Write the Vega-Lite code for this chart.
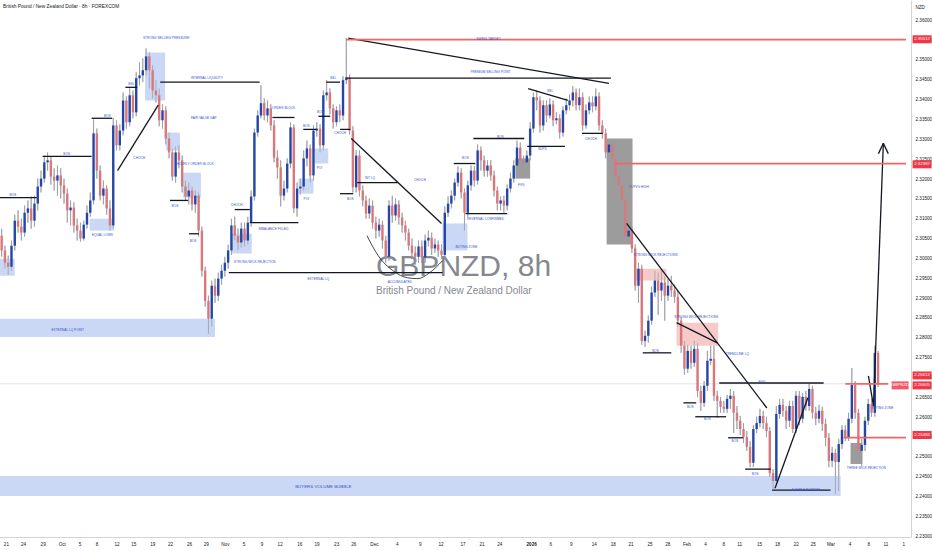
{
"$schema": "https://vega.github.io/schema/vega-lite/v6.json",
"width": 932, "height": 550, "padding": {"left": -5, "top": 0, "right": 0, "bottom": 4}, "autosize": {"type": "fit", "contains": "padding"},
"background": "white",
"config": {"font": "Liberation Sans, Arial, sans-serif", "view": {"stroke": null},
 "axis": {"labelOverlap": false, "labelFlush": false, "labelBound": false, "ticks": false, "grid": false, "domainColor": "#d1d4dc", "labelColor": "#131722", "labelFontSize": 4.6, "labelPadding": 4, "tickCount": 200}},
"datasets": {
"candles": [
{"i":0,"o":2.3057,"h":2.3075,"l":2.3004,"c":2.3020},{"i":1,"o":2.3020,"h":2.3032,"l":2.2974,"c":2.2989},{"i":2,"o":2.2989,"h":2.3007,"l":2.2959,"c":2.2979},{"i":3,"o":2.2979,"h":2.3045,"l":2.2969,"c":2.3032},{"i":4,"o":2.3032,"h":2.3110,"l":2.3020,"c":2.3095},{"i":5,"o":2.3095,"h":2.3121,"l":2.3065,"c":2.3080},{"i":6,"o":2.3080,"h":2.3100,"l":2.3045,"c":2.3065},{"i":7,"o":2.3065,"h":2.3133,"l":2.3055,"c":2.3115},{"i":8,"o":2.3115,"h":2.3146,"l":2.3090,"c":2.3126},{"i":9,"o":2.3126,"h":2.3156,"l":2.3075,"c":2.3095},
{"i":10,"o":2.3095,"h":2.3158,"l":2.3080,"c":2.3138},{"i":11,"o":2.3138,"h":2.3201,"l":2.3121,"c":2.3181},{"i":12,"o":2.3181,"h":2.3221,"l":2.3166,"c":2.3201},{"i":13,"o":2.3201,"h":2.3259,"l":2.3191,"c":2.3242},{"i":14,"o":2.3242,"h":2.3267,"l":2.3221,"c":2.3247},{"i":15,"o":2.3247,"h":2.3257,"l":2.3186,"c":2.3206},{"i":16,"o":2.3206,"h":2.3227,"l":2.3171,"c":2.3196},{"i":17,"o":2.3196,"h":2.3234,"l":2.3158,"c":2.3209},{"i":18,"o":2.3209,"h":2.3227,"l":2.3151,"c":2.3184},{"i":19,"o":2.3184,"h":2.3201,"l":2.3138,"c":2.3163},
{"i":20,"o":2.3163,"h":2.3176,"l":2.3090,"c":2.3121},{"i":21,"o":2.3121,"h":2.3146,"l":2.3083,"c":2.3128},{"i":22,"o":2.3128,"h":2.3141,"l":2.3065,"c":2.3083},{"i":23,"o":2.3083,"h":2.3100,"l":2.3045,"c":2.3070},{"i":24,"o":2.3070,"h":2.3090,"l":2.3042,"c":2.3050},{"i":25,"o":2.3050,"h":2.3095,"l":2.3045,"c":2.3085},{"i":26,"o":2.3085,"h":2.3133,"l":2.3075,"c":2.3115},{"i":27,"o":2.3115,"h":2.3166,"l":2.3105,"c":2.3146},{"i":28,"o":2.3146,"h":2.3350,"l":2.3136,"c":2.3315},{"i":29,"o":2.3315,"h":2.3327,"l":2.3201,"c":2.3221},
{"i":30,"o":2.3221,"h":2.3234,"l":2.3146,"c":2.3158},{"i":31,"o":2.3158,"h":2.3196,"l":2.3136,"c":2.3176},{"i":32,"o":2.3176,"h":2.3184,"l":2.3110,"c":2.3126},{"i":33,"o":2.3126,"h":2.3146,"l":2.3070,"c":2.3083},{"i":34,"o":2.3083,"h":2.3353,"l":2.3075,"c":2.3335},{"i":35,"o":2.3335,"h":2.3348,"l":2.3272,"c":2.3285},{"i":36,"o":2.3285,"h":2.3338,"l":2.3272,"c":2.3322},{"i":37,"o":2.3322,"h":2.3418,"l":2.3310,"c":2.3398},{"i":38,"o":2.3398,"h":2.3408,"l":2.3327,"c":2.3343},{"i":39,"o":2.3343,"h":2.3428,"l":2.3333,"c":2.3411},
{"i":40,"o":2.3411,"h":2.3423,"l":2.3353,"c":2.3368},{"i":41,"o":2.3368,"h":2.3469,"l":2.3358,"c":2.3454},{"i":42,"o":2.3454,"h":2.3494,"l":2.3436,"c":2.3461},{"i":43,"o":2.3461,"h":2.3504,"l":2.3444,"c":2.3474},{"i":44,"o":2.3474,"h":2.3529,"l":2.3461,"c":2.3509},{"i":45,"o":2.3509,"h":2.3519,"l":2.3428,"c":2.3474},{"i":46,"o":2.3474,"h":2.3487,"l":2.3403,"c":2.3423},{"i":47,"o":2.3423,"h":2.3449,"l":2.3393,"c":2.3411},{"i":48,"o":2.3411,"h":2.3428,"l":2.3333,"c":2.3348},{"i":49,"o":2.3348,"h":2.3388,"l":2.3327,"c":2.3373},
{"i":50,"o":2.3373,"h":2.3383,"l":2.3287,"c":2.3302},{"i":51,"o":2.3302,"h":2.3317,"l":2.3252,"c":2.3267},{"i":52,"o":2.3267,"h":2.3277,"l":2.3196,"c":2.3206},{"i":53,"o":2.3206,"h":2.3282,"l":2.3191,"c":2.3267},{"i":54,"o":2.3267,"h":2.3285,"l":2.3227,"c":2.3247},{"i":55,"o":2.3247,"h":2.3259,"l":2.3166,"c":2.3181},{"i":56,"o":2.3181,"h":2.3196,"l":2.3146,"c":2.3156},{"i":57,"o":2.3156,"h":2.3191,"l":2.3136,"c":2.3171},{"i":58,"o":2.3171,"h":2.3181,"l":2.3121,"c":2.3136},{"i":59,"o":2.3136,"h":2.3171,"l":2.3115,"c":2.3158},
{"i":60,"o":2.3158,"h":2.3166,"l":2.3055,"c":2.3070},{"i":61,"o":2.3070,"h":2.3080,"l":2.2954,"c":2.2969},{"i":62,"o":2.2969,"h":2.2979,"l":2.2878,"c":2.2893},{"i":63,"o":2.2893,"h":2.2906,"l":2.2810,"c":2.2848},{"i":64,"o":2.2848,"h":2.2944,"l":2.2828,"c":2.2931},{"i":65,"o":2.2931,"h":2.2949,"l":2.2888,"c":2.2906},{"i":66,"o":2.2906,"h":2.2964,"l":2.2893,"c":2.2949},{"i":67,"o":2.2949,"h":2.2984,"l":2.2934,"c":2.2969},{"i":68,"o":2.2969,"h":2.3004,"l":2.2954,"c":2.2989},{"i":69,"o":2.2989,"h":2.3035,"l":2.2974,"c":2.3020},
{"i":70,"o":2.3020,"h":2.3100,"l":2.3009,"c":2.3083},{"i":71,"o":2.3083,"h":2.3105,"l":2.3045,"c":2.3057},{"i":72,"o":2.3057,"h":2.3075,"l":2.3020,"c":2.3040},{"i":73,"o":2.3040,"h":2.3090,"l":2.3027,"c":2.3075},{"i":74,"o":2.3075,"h":2.3090,"l":2.3030,"c":2.3045},{"i":75,"o":2.3045,"h":2.3105,"l":2.3035,"c":2.3090},{"i":76,"o":2.3090,"h":2.3171,"l":2.3080,"c":2.3156},{"i":77,"o":2.3156,"h":2.3327,"l":2.3146,"c":2.3317},{"i":78,"o":2.3317,"h":2.3373,"l":2.3307,"c":2.3360},{"i":79,"o":2.3360,"h":2.3436,"l":2.3353,"c":2.3391},
{"i":80,"o":2.3391,"h":2.3403,"l":2.3348,"c":2.3360},{"i":81,"o":2.3360,"h":2.3398,"l":2.3343,"c":2.3378},{"i":82,"o":2.3378,"h":2.3388,"l":2.3322,"c":2.3335},{"i":83,"o":2.3335,"h":2.3348,"l":2.3242,"c":2.3254},{"i":84,"o":2.3254,"h":2.3272,"l":2.3201,"c":2.3229},{"i":85,"o":2.3229,"h":2.3247,"l":2.3131,"c":2.3158},{"i":86,"o":2.3158,"h":2.3196,"l":2.3146,"c":2.3176},{"i":87,"o":2.3176,"h":2.3252,"l":2.3166,"c":2.3239},{"i":88,"o":2.3239,"h":2.3343,"l":2.3227,"c":2.3330},{"i":89,"o":2.3330,"h":2.3338,"l":2.3115,"c":2.3126},
{"i":90,"o":2.3126,"h":2.3191,"l":2.3105,"c":2.3176},{"i":91,"o":2.3176,"h":2.3201,"l":2.3161,"c":2.3181},{"i":92,"o":2.3181,"h":2.3272,"l":2.3171,"c":2.3252},{"i":93,"o":2.3252,"h":2.3297,"l":2.3232,"c":2.3277},{"i":94,"o":2.3277,"h":2.3287,"l":2.3191,"c":2.3209},{"i":95,"o":2.3209,"h":2.3335,"l":2.3196,"c":2.3322},{"i":96,"o":2.3322,"h":2.3343,"l":2.3307,"c":2.3327},{"i":97,"o":2.3327,"h":2.3338,"l":2.3267,"c":2.3285},{"i":98,"o":2.3285,"h":2.3423,"l":2.3272,"c":2.3411},{"i":99,"o":2.3411,"h":2.3449,"l":2.3398,"c":2.3418},
{"i":100,"o":2.3418,"h":2.3428,"l":2.3363,"c":2.3378},{"i":101,"o":2.3378,"h":2.3388,"l":2.3327,"c":2.3343},{"i":102,"o":2.3343,"h":2.3383,"l":2.3333,"c":2.3373},{"i":103,"o":2.3373,"h":2.3388,"l":2.3343,"c":2.3360},{"i":104,"o":2.3360,"h":2.3459,"l":2.3348,"c":2.3449},{"i":105,"o":2.3449,"h":2.3555,"l":2.3439,"c":2.3456},{"i":106,"o":2.3456,"h":2.3464,"l":2.3312,"c":2.3322},{"i":107,"o":2.3322,"h":2.3333,"l":2.3166,"c":2.3179},{"i":108,"o":2.3179,"h":2.3272,"l":2.3166,"c":2.3259},{"i":109,"o":2.3259,"h":2.3272,"l":2.3156,"c":2.3171},
{"i":110,"o":2.3171,"h":2.3184,"l":2.3131,"c":2.3146},{"i":111,"o":2.3146,"h":2.3158,"l":2.3100,"c":2.3113},{"i":112,"o":2.3113,"h":2.3151,"l":2.3100,"c":2.3133},{"i":113,"o":2.3133,"h":2.3146,"l":2.3075,"c":2.3090},{"i":114,"o":2.3090,"h":2.3105,"l":2.3050,"c":2.3070},{"i":115,"o":2.3070,"h":2.3100,"l":2.3055,"c":2.3085},{"i":116,"o":2.3085,"h":2.3095,"l":2.3025,"c":2.3045},{"i":117,"o":2.3045,"h":2.3057,"l":2.2989,"c":2.3004},{"i":118,"o":2.3004,"h":2.3146,"l":2.2994,"c":2.3133},{"i":119,"o":2.3133,"h":2.3158,"l":2.3090,"c":2.3108},
{"i":120,"o":2.3108,"h":2.3151,"l":2.3095,"c":2.3136},{"i":121,"o":2.3136,"h":2.3146,"l":2.3085,"c":2.3103},{"i":122,"o":2.3103,"h":2.3115,"l":2.3065,"c":2.3083},{"i":123,"o":2.3083,"h":2.3095,"l":2.3045,"c":2.3065},{"i":124,"o":2.3065,"h":2.3075,"l":2.3020,"c":2.3032},{"i":125,"o":2.3032,"h":2.3050,"l":2.2999,"c":2.3014},{"i":126,"o":2.3014,"h":2.3030,"l":2.2984,"c":2.3004},{"i":127,"o":2.3004,"h":2.3045,"l":2.2989,"c":2.3030},{"i":128,"o":2.3030,"h":2.3045,"l":2.2989,"c":2.3002},{"i":129,"o":2.3002,"h":2.3060,"l":2.2989,"c":2.3045},
{"i":130,"o":2.3045,"h":2.3070,"l":2.3030,"c":2.3052},{"i":131,"o":2.3052,"h":2.3065,"l":2.3009,"c":2.3025},{"i":132,"o":2.3025,"h":2.3050,"l":2.3014,"c":2.3035},{"i":133,"o":2.3035,"h":2.3045,"l":2.3004,"c":2.3020},{"i":134,"o":2.3020,"h":2.3035,"l":2.2999,"c":2.3009},{"i":135,"o":2.3009,"h":2.3131,"l":2.2999,"c":2.3115},{"i":136,"o":2.3115,"h":2.3156,"l":2.3105,"c":2.3138},{"i":137,"o":2.3138,"h":2.3171,"l":2.3126,"c":2.3158},{"i":138,"o":2.3158,"h":2.3201,"l":2.3146,"c":2.3191},{"i":139,"o":2.3191,"h":2.3232,"l":2.3181,"c":2.3216},
{"i":140,"o":2.3216,"h":2.3227,"l":2.3151,"c":2.3166},{"i":141,"o":2.3166,"h":2.3176,"l":2.3070,"c":2.3115},{"i":142,"o":2.3115,"h":2.3196,"l":2.3105,"c":2.3184},{"i":143,"o":2.3184,"h":2.3234,"l":2.3171,"c":2.3221},{"i":144,"o":2.3221,"h":2.3232,"l":2.3181,"c":2.3196},{"i":145,"o":2.3196,"h":2.3287,"l":2.3186,"c":2.3272},{"i":146,"o":2.3272,"h":2.3282,"l":2.3221,"c":2.3247},{"i":147,"o":2.3247,"h":2.3259,"l":2.3206,"c":2.3221},{"i":148,"o":2.3221,"h":2.3247,"l":2.3206,"c":2.3234},{"i":149,"o":2.3234,"h":2.3247,"l":2.3196,"c":2.3209},
{"i":150,"o":2.3209,"h":2.3221,"l":2.3156,"c":2.3171},{"i":151,"o":2.3171,"h":2.3181,"l":2.3121,"c":2.3138},{"i":152,"o":2.3138,"h":2.3156,"l":2.3121,"c":2.3146},{"i":153,"o":2.3146,"h":2.3158,"l":2.3115,"c":2.3133},{"i":154,"o":2.3133,"h":2.3186,"l":2.3121,"c":2.3176},{"i":155,"o":2.3176,"h":2.3216,"l":2.3166,"c":2.3201},{"i":156,"o":2.3201,"h":2.3247,"l":2.3191,"c":2.3234},{"i":157,"o":2.3234,"h":2.3297,"l":2.3221,"c":2.3279},{"i":158,"o":2.3279,"h":2.3292,"l":2.3232,"c":2.3247},{"i":159,"o":2.3247,"h":2.3259,"l":2.3227,"c":2.3242},
{"i":160,"o":2.3242,"h":2.3272,"l":2.3227,"c":2.3259},{"i":161,"o":2.3259,"h":2.3343,"l":2.3247,"c":2.3327},{"i":162,"o":2.3327,"h":2.3418,"l":2.3317,"c":2.3406},{"i":163,"o":2.3406,"h":2.3423,"l":2.3373,"c":2.3398},{"i":164,"o":2.3398,"h":2.3408,"l":2.3317,"c":2.3335},{"i":165,"o":2.3335,"h":2.3398,"l":2.3322,"c":2.3386},{"i":166,"o":2.3386,"h":2.3398,"l":2.3343,"c":2.3360},{"i":167,"o":2.3360,"h":2.3403,"l":2.3353,"c":2.3388},{"i":168,"o":2.3388,"h":2.3398,"l":2.3333,"c":2.3348},{"i":169,"o":2.3348,"h":2.3368,"l":2.3338,"c":2.3353},
{"i":170,"o":2.3353,"h":2.3363,"l":2.3302,"c":2.3317},{"i":171,"o":2.3317,"h":2.3383,"l":2.3307,"c":2.3373},{"i":172,"o":2.3373,"h":2.3403,"l":2.3363,"c":2.3386},{"i":173,"o":2.3386,"h":2.3413,"l":2.3373,"c":2.3398},{"i":174,"o":2.3398,"h":2.3434,"l":2.3383,"c":2.3418},{"i":175,"o":2.3418,"h":2.3428,"l":2.3373,"c":2.3386},{"i":176,"o":2.3386,"h":2.3428,"l":2.3373,"c":2.3406},{"i":177,"o":2.3406,"h":2.3418,"l":2.3322,"c":2.3335},{"i":178,"o":2.3335,"h":2.3388,"l":2.3327,"c":2.3373},{"i":179,"o":2.3373,"h":2.3408,"l":2.3363,"c":2.3393},
{"i":180,"o":2.3393,"h":2.3408,"l":2.3368,"c":2.3383},{"i":181,"o":2.3383,"h":2.3428,"l":2.3373,"c":2.3408},{"i":182,"o":2.3408,"h":2.3418,"l":2.3322,"c":2.3335},{"i":183,"o":2.3335,"h":2.3348,"l":2.3302,"c":2.3315},{"i":184,"o":2.3315,"h":2.3327,"l":2.3252,"c":2.3267},{"i":185,"o":2.3267,"h":2.3297,"l":2.3247,"c":2.3287},{"i":186,"o":2.3287,"h":2.3297,"l":2.3237,"c":2.3252},{"i":187,"o":2.3252,"h":2.3262,"l":2.3191,"c":2.3206},{"i":188,"o":2.3206,"h":2.3221,"l":2.3171,"c":2.3184},{"i":189,"o":2.3184,"h":2.3196,"l":2.3136,"c":2.3146},
{"i":190,"o":2.3146,"h":2.3156,"l":2.3045,"c":2.3055},{"i":191,"o":2.3055,"h":2.3080,"l":2.3045,"c":2.3070},{"i":192,"o":2.3070,"h":2.3080,"l":2.3014,"c":2.3025},{"i":193,"o":2.3025,"h":2.3035,"l":2.2919,"c":2.2931},{"i":194,"o":2.2931,"h":2.2989,"l":2.2888,"c":2.2974},{"i":195,"o":2.2974,"h":2.2984,"l":2.2782,"c":2.2792},{"i":196,"o":2.2792,"h":2.2818,"l":2.2777,"c":2.2805},{"i":197,"o":2.2805,"h":2.2856,"l":2.2787,"c":2.2843},{"i":198,"o":2.2843,"h":2.2929,"l":2.2833,"c":2.2914},{"i":199,"o":2.2914,"h":2.2969,"l":2.2903,"c":2.2944},
{"i":200,"o":2.2944,"h":2.2964,"l":2.2858,"c":2.2919},{"i":201,"o":2.2919,"h":2.2969,"l":2.2893,"c":2.2939},{"i":202,"o":2.2939,"h":2.2954,"l":2.2843,"c":2.2906},{"i":203,"o":2.2906,"h":2.2949,"l":2.2893,"c":2.2931},{"i":204,"o":2.2931,"h":2.2956,"l":2.2903,"c":2.2919},{"i":205,"o":2.2919,"h":2.2934,"l":2.2888,"c":2.2903},{"i":206,"o":2.2903,"h":2.2919,"l":2.2828,"c":2.2843},{"i":207,"o":2.2843,"h":2.2853,"l":2.2762,"c":2.2780},{"i":208,"o":2.2780,"h":2.2792,"l":2.2707,"c":2.2722},{"i":209,"o":2.2722,"h":2.2782,"l":2.2712,"c":2.2767},
{"i":210,"o":2.2767,"h":2.2780,"l":2.2722,"c":2.2737},{"i":211,"o":2.2737,"h":2.2792,"l":2.2727,"c":2.2772},{"i":212,"o":2.2772,"h":2.2787,"l":2.2651,"c":2.2666},{"i":213,"o":2.2666,"h":2.2679,"l":2.2616,"c":2.2636},{"i":214,"o":2.2636,"h":2.2691,"l":2.2626,"c":2.2679},{"i":215,"o":2.2679,"h":2.2767,"l":2.2666,"c":2.2742},{"i":216,"o":2.2742,"h":2.2780,"l":2.2732,"c":2.2747},{"i":217,"o":2.2747,"h":2.2780,"l":2.2641,"c":2.2654},{"i":218,"o":2.2654,"h":2.2666,"l":2.2598,"c":2.2641},{"i":219,"o":2.2641,"h":2.2651,"l":2.2611,"c":2.2626},
{"i":220,"o":2.2626,"h":2.2641,"l":2.2611,"c":2.2621},{"i":221,"o":2.2621,"h":2.2656,"l":2.2611,"c":2.2646},{"i":222,"o":2.2646,"h":2.2671,"l":2.2621,"c":2.2654},{"i":223,"o":2.2654,"h":2.2666,"l":2.2560,"c":2.2611},{"i":224,"o":2.2611,"h":2.2628,"l":2.2570,"c":2.2591},{"i":225,"o":2.2591,"h":2.2603,"l":2.2555,"c":2.2570},{"i":226,"o":2.2570,"h":2.2585,"l":2.2535,"c":2.2550},{"i":227,"o":2.2550,"h":2.2565,"l":2.2515,"c":2.2525},{"i":228,"o":2.2525,"h":2.2540,"l":2.2474,"c":2.2485},{"i":229,"o":2.2485,"h":2.2580,"l":2.2474,"c":2.2570},
{"i":230,"o":2.2570,"h":2.2601,"l":2.2560,"c":2.2585},{"i":231,"o":2.2585,"h":2.2621,"l":2.2575,"c":2.2603},{"i":232,"o":2.2603,"h":2.2616,"l":2.2570,"c":2.2585},{"i":233,"o":2.2585,"h":2.2601,"l":2.2550,"c":2.2565},{"i":234,"o":2.2565,"h":2.2575,"l":2.2449,"c":2.2459},{"i":235,"o":2.2459,"h":2.2469,"l":2.2419,"c":2.2439},{"i":236,"o":2.2439,"h":2.2628,"l":2.2429,"c":2.2608},{"i":237,"o":2.2608,"h":2.2646,"l":2.2596,"c":2.2631},{"i":238,"o":2.2631,"h":2.2646,"l":2.2601,"c":2.2616},{"i":239,"o":2.2616,"h":2.2628,"l":2.2570,"c":2.2591},
{"i":240,"o":2.2591,"h":2.2641,"l":2.2575,"c":2.2628},{"i":241,"o":2.2628,"h":2.2641,"l":2.2560,"c":2.2570},{"i":242,"o":2.2570,"h":2.2666,"l":2.2560,"c":2.2654},{"i":243,"o":2.2654,"h":2.2666,"l":2.2580,"c":2.2596},{"i":244,"o":2.2596,"h":2.2661,"l":2.2585,"c":2.2651},{"i":245,"o":2.2651,"h":2.2666,"l":2.2616,"c":2.2628},{"i":246,"o":2.2628,"h":2.2684,"l":2.2616,"c":2.2671},{"i":247,"o":2.2671,"h":2.2679,"l":2.2596,"c":2.2611},{"i":248,"o":2.2611,"h":2.2626,"l":2.2580,"c":2.2596},{"i":249,"o":2.2596,"h":2.2631,"l":2.2585,"c":2.2616},
{"i":250,"o":2.2616,"h":2.2626,"l":2.2565,"c":2.2583},{"i":251,"o":2.2583,"h":2.2596,"l":2.2527,"c":2.2548},{"i":252,"o":2.2548,"h":2.2560,"l":2.2474,"c":2.2490},{"i":253,"o":2.2490,"h":2.2525,"l":2.2474,"c":2.2510},{"i":254,"o":2.2510,"h":2.2520,"l":2.2406,"c":2.2487},{"i":255,"o":2.2487,"h":2.2545,"l":2.2414,"c":2.2532},{"i":256,"o":2.2532,"h":2.2580,"l":2.2520,"c":2.2568},{"i":257,"o":2.2568,"h":2.2580,"l":2.2540,"c":2.2550},{"i":258,"o":2.2550,"h":2.2611,"l":2.2540,"c":2.2596},{"i":259,"o":2.2596,"h":2.2724,"l":2.2585,"c":2.2681},
{"i":260,"o":2.2681,"h":2.2691,"l":2.2596,"c":2.2611},{"i":261,"o":2.2611,"h":2.2621,"l":2.2500,"c":2.2515},{"i":262,"o":2.2515,"h":2.2545,"l":2.2477,"c":2.2530},{"i":263,"o":2.2530,"h":2.2601,"l":2.2515,"c":2.2591},{"i":264,"o":2.2591,"h":2.2646,"l":2.2580,"c":2.2633},{"i":265,"o":2.2633,"h":2.2646,"l":2.2601,"c":2.2611},{"i":266,"o":2.2611,"h":2.2780,"l":2.2601,"c":2.2762},{"i":267,"o":2.2762,"h":2.2767,"l":2.2676,"c":2.2684}
],
"zones": [
{"k":"blue","i1":-0.5,"i2":255.6,"p1":2.2452,"p2":2.2401},
{"k":"blue","i1":-0.5,"i2":65,"p1":2.2848,"p2":2.2802},
{"k":"blue","i1":-0.5,"i2":4,"p1":2.2999,"p2":2.2956},
{"k":"blue","i1":26.8,"i2":34.3,"p1":2.3100,"p2":2.3070},
{"k":"blue","i1":43.7,"i2":49.8,"p1":2.3519,"p2":2.3398},
{"k":"blue","i1":50.1,"i2":54.3,"p1":2.3317,"p2":2.3272},
{"k":"blue","i1":55.3,"i2":60.7,"p1":2.3216,"p2":2.3153},
{"k":"blue","i1":70.1,"i2":76.2,"p1":2.3062,"p2":2.3012},
{"k":"blue","i1":90.4,"i2":95,"p1":2.3201,"p2":2.3163},
{"k":"blue","i1":95.3,"i2":99.5,"p1":2.3277,"p2":2.3239},
{"k":"blue","i1":134.3,"i2":141.9,"p1":2.3088,"p2":2.3020},
{"k":"gray","i1":156.5,"i2":161,"p1":2.3252,"p2":2.3201},
{"k":"gray","i1":184.3,"i2":192.2,"p1":2.3302,"p2":2.3035},
{"k":"pink","i1":192.8,"i2":202.5,"p1":2.2974,"p2":2.2944},
{"k":"pink","i1":205.6,"i2":218.3,"p1":2.2838,"p2":2.2780},
{"k":"gray","i1":258.6,"i2":262.2,"p1":2.2535,"p2":2.2482}
],
"lines": [
{"k":"f","i1":-0.5,"i2":257,"p1":2.2684,"p2":2.2684},
{"k":"b","i1":-0.5,"i2":10.7,"p1":2.3153,"p2":2.3153},
{"k":"b","i1":12.5,"i2":27.4,"p1":2.3257,"p2":2.3257},
{"k":"b","i1":27.4,"i2":33.7,"p1":2.3353,"p2":2.3353},
{"k":"b","i1":37.7,"i2":41.3,"p1":2.3431,"p2":2.3431},
{"k":"b","i1":48.3,"i2":78.6,"p1":2.3444,"p2":2.3444},
{"k":"b","i1":35.3,"i2":47.7,"p1":2.3221,"p2":2.3386},
{"k":"b","i1":51.3,"i2":56.8,"p1":2.3146,"p2":2.3146},
{"k":"b","i1":57.1,"i2":60.1,"p1":2.3062,"p2":2.3062},
{"k":"b","i1":82.5,"i2":89.2,"p1":2.3355,"p2":2.3355},
{"k":"b","i1":71,"i2":75.6,"p1":2.3123,"p2":2.3123},
{"k":"b","i1":75.6,"i2":90.4,"p1":2.3090,"p2":2.3090},
{"k":"b","i1":69.2,"i2":134.3,"p1":2.2964,"p2":2.2964},
{"k":"b","i1":91.9,"i2":95.9,"p1":2.3325,"p2":2.3325},
{"k":"b","i1":96.5,"i2":100.1,"p1":2.3358,"p2":2.3358},
{"k":"b","i1":98.9,"i2":103.1,"p1":2.3444,"p2":2.3444},
{"k":"b","i1":103.1,"i2":106.2,"p1":2.3325,"p2":2.3325},
{"k":"b","i1":103.1,"i2":107.1,"p1":2.3163,"p2":2.3163},
{"k":"b","i1":105,"i2":185.6,"p1":2.3454,"p2":2.3454},
{"k":"b","i1":105.6,"i2":185,"p1":2.3555,"p2":2.3441},
{"k":"b","i1":108.3,"i2":120.7,"p1":2.3191,"p2":2.3191},
{"k":"b","i1":106.5,"i2":134,"p1":2.3302,"p2":2.3088},
{"k":"b","i1":137.7,"i2":144.3,"p1":2.3239,"p2":2.3239},
{"k":"b","i1":143.7,"i2":159.2,"p1":2.3302,"p2":2.3302},
{"k":"b","i1":141.3,"i2":154,"p1":2.3113,"p2":2.3113},
{"k":"b","i1":160.1,"i2":171.6,"p1":2.3282,"p2":2.3282},
{"k":"b","i1":160.4,"i2":172.5,"p1":2.3428,"p2":2.3398},
{"k":"b","i1":176.8,"i2":183.1,"p1":2.3315,"p2":2.3315},
{"k":"b","i1":190.4,"i2":233.1,"p1":2.3088,"p2":2.2623},
{"k":"b","i1":205.6,"i2":218,"p1":2.2838,"p2":2.2787},
{"k":"b","i1":195.3,"i2":204,"p1":2.2762,"p2":2.2762},
{"k":"b","i1":207.7,"i2":211.6,"p1":2.2636,"p2":2.2636},
{"k":"b","i1":211.3,"i2":220.7,"p1":2.2601,"p2":2.2601},
{"k":"b","i1":221.3,"i2":225.9,"p1":2.2548,"p2":2.2548},
{"k":"b","i1":226.5,"i2":234.3,"p1":2.2469,"p2":2.2469},
{"k":"b","i1":218.6,"i2":250.4,"p1":2.2686,"p2":2.2686},
{"k":"b","i1":234.7,"i2":252.5,"p1":2.2416,"p2":2.2416},
{"k":"b","i1":235.6,"i2":245.6,"p1":2.2421,"p2":2.2649},
{"k":"b","i1":264.05,"i2":265.6,"p1":2.2704,"p2":2.2628},
{"k":"b","i1":265.6,"i2":268.6,"p1":2.2628,"p2":2.3290},
{"k":"b","i1":267.1,"i2":268.6,"p1":2.3264,"p2":2.3290},
{"k":"b","i1":270.1,"i2":268.6,"p1":2.3264,"p2":2.3290},
{"k":"r","i1":105,"i2":275.5,"p1":2.35512,"p2":2.35512},
{"k":"r","i1":186.8,"i2":275.5,"p1":2.32387,"p2":2.32387},
{"k":"r","i1":256.5,"i2":275.5,"p1":2.25484,"p2":2.25484},
{"k":"r","i1":257,"i2":270.1,"p1":2.2684,"p2":2.2684}
],
"arc": [
{"n":1,"i":111.3,"p":2.3057},{"n":2,"i":114.7,"p":2.3007},{"n":3,"i":119.2,"p":2.2969},{"n":4,"i":123.7,"p":2.2951},{"n":5,"i":126.8,"p":2.2949},{"n":6,"i":130.4,"p":2.2964},{"n":7,"i":134.3,"p":2.2994}
],
"labels": [
{"t":"BOS","i":3.4,"p":2.3161,"k":"s"},{"t":"BOS","i":19.8,"p":2.3264,"k":"s"},{"t":"BOS","i":32.2,"p":2.3360,"k":"s"},{"t":"EQUAL LOWS","i":30.7,"p":2.3060,"k":"s"},{"t":"EXTERNAL LQ POINT","i":20.1,"p":2.2820,"k":"s"},{"t":"STRONG SELLING PRESSURE","i":50.1,"p":2.3555,"k":"s"},{"t":"BSL","i":39.5,"p":2.3439,"k":"s"},{"t":"INTERNAL LIQUIDITY","i":62.5,"p":2.3456,"k":"s"},{"t":"FAIR VALUE GAP","i":61.6,"p":2.3353,"k":"s"},{"t":"CHOCH","i":41.9,"p":2.3254,"k":"s"},{"t":"HOURLY ORDER BLOCK","i":58.9,"p":2.3239,"k":"s"},{"t":"BOS","i":52.8,"p":2.3133,"k":"s"},{"t":"BOS","i":58.3,"p":2.3045,"k":"s"},{"t":"ORDER BLOCK","i":85.9,"p":2.3378,"k":"s"},{"t":"CHOCH","i":71.6,"p":2.3136,"k":"s"},{"t":"IMBALANCE FILLED","i":82.8,"p":2.3075,"k":"s"},{"t":"STRONG WICK REJECTION","i":77.1,"p":2.2992,"k":"s"},{"t":"POI","i":92.8,"p":2.3151,"k":"s"},{"t":"POI","i":96.8,"p":2.3229,"k":"s"},{"t":"BOS","i":92.8,"p":2.3335,"k":"s"},{"t":"BOS","i":97.1,"p":2.3370,"k":"s"},{"t":"BSL","i":101,"p":2.3454,"k":"s"},{"t":"CHOCH","i":103.1,"p":2.3315,"k":"s"},{"t":"EXTERNAL LQ","i":96.5,"p":2.2949,"k":"s"},{"t":"BOS","i":106.2,"p":2.3151,"k":"s"},{"t":"INT LQ","i":112.2,"p":2.3204,"k":"s"},{"t":"CHOCH","i":127.4,"p":2.3199,"k":"s"},{"t":"ACCUMULATED","i":121.3,"p":2.2941,"k":"s"},{"t":"SWING TARGET","i":148.3,"p":2.3552,"k":"s"},{"t":"PREMIUM SELLING POINT","i":148.9,"p":2.3471,"k":"s"},{"t":"BOS","i":141.3,"p":2.3254,"k":"s"},{"t":"BOS","i":151.9,"p":2.3307,"k":"s"},{"t":"REVERSAL CONFIRMED","i":147.4,"p":2.3100,"k":"s"},{"t":"BUYING ZONE","i":141.6,"p":2.3030,"k":"s"},{"t":"FVG","i":158.3,"p":2.3184,"k":"s"},{"t":"SUPS","i":164.7,"p":2.3275,"k":"s"},{"t":"BSL","i":167.1,"p":2.3421,"k":"s"},{"t":"CHOCH","i":179.5,"p":2.3302,"k":"s"},{"t":"15 FVG HIGH","i":194.1,"p":2.3181,"k":"s"},{"t":"STRONG WICK REJECTIONS","i":199.2,"p":2.3009,"k":"s"},{"t":"BOS","i":199.2,"p":2.2767,"k":"s"},{"t":"STRONG WICK REJECTIONS","i":211.6,"p":2.2853,"k":"s"},{"t":"TRENDLINE LQ","i":224.1,"p":2.2759,"k":"s"},{"t":"FVG","i":231.6,"p":2.2689,"k":"s"},{"t":"BOS","i":209.8,"p":2.2626,"k":"s"},{"t":"BOS","i":215,"p":2.2596,"k":"s"},{"t":"BOS","i":223.4,"p":2.2540,"k":"s"},{"t":"BOS","i":229.5,"p":2.2457,"k":"s"},{"t":"DOUBLE BOTTOM","i":245,"p":2.2416,"k":"s"},{"t":"THREE WICK REJECTION","i":263.4,"p":2.2472,"k":"s"},{"t":"BUYING ZONE","i":268.3,"p":2.2623,"k":"s"},{"t":"BUYERS VOLUME BUBBLE","i":98,"p":2.2424,"k":"m"}
],
"wm": [
{"t":"GBPNZD, 8h","i":114.05,"p":2.2956,"k":"big"},
{"t":"British Pound / New Zealand Dollar","i":114.05,"p":2.2909,"k":"sub"}
],
"title": [
{"t":"British Pound / New Zealand Dollar · 8h · FOREXCOM","i":0.45,"p":2.3633}
],
"tags": [
{"t":"2.35512","i":280.4,"p":2.3552,"k":"axis"},
{"t":"2.32387","i":280.4,"p":2.3237,"k":"axis"},
{"t":"2.26612","i":280.4,"p":2.2705,"k":"axis"},
{"t":"2.26605","i":280.4,"p":2.2680,"k":"axis"},
{"t":"2.25484","i":280.4,"p":2.2555,"k":"axis"},
{"t":"GBPNZD","i":273.7,"p":2.2680,"k":"sym"}
]
},
"layer": [
{
"data": {"name": "candles"},
"mark": {"type": "rule", "color": "#9a9ca3", "strokeWidth": 0.8},
"encoding": {
"x": {"field": "i", "type": "quantitative", "scale": {"domain": [-0.5, 275.5], "nice": false, "zero": false},
 "axis": {"title": null, "tickCount": 200, "values": [1.3,6.5,12.5,18.3,23.7,28.9,35,40.1,45.9,51.3,57.1,62.2,68,73.7,79.2,84.7,90.7,95.9,101.9,107.1,113.4,120.4,127.4,133.7,140.4,146.2,151.6,161.3,167.1,173.4,180.4,186.2,191.6,197.4,202.8,208.6,214.3,219.8,224.7,230.7,236.2,241.9,247.1,252.5,258.3,264,269.2,274.7],
 "labelExpr": "['21','24','29','Oct','5','8','12','15','19','22','26','29','Nov','5','9','12','16','19','23','26','Dec','4','9','12','17','21','24','2026','6','9','14','18','21','25','28','Feb','4','8','11','15','18','22','25','Mar','4','8','11','1'][indexof([1.3,6.5,12.5,18.3,23.7,28.9,35,40.1,45.9,51.3,57.1,62.2,68,73.7,79.2,84.7,90.7,95.9,101.9,107.1,113.4,120.4,127.4,133.7,140.4,146.2,151.6,161.3,167.1,173.4,180.4,186.2,191.6,197.4,202.8,208.6,214.3,219.8,224.7,230.7,236.2,241.9,247.1,252.5,258.3,264,269.2,274.7], datum.value)]",
 "labelOverlap": false, "labelFlush": false,
 "labelFontWeight": {"condition": {"test": "datum.value == 161.3", "value": "bold"}, "value": "normal"}}},
"y": {"field": "h", "type": "quantitative", "scale": {"domain": [2.2298, 2.3651], "nice": false, "zero": false},
 "axis": {"orient": "right", "title": "NZD", "titleAngle": 0, "titleAlign": "left", "titleBaseline": "middle", "titleX": 4, "titleY": 7, "titleFontSize": 4.6, "titleFontWeight": "normal", "titleColor": "#131722", "tickCount": 200,
 "values": [2.23,2.235,2.24,2.245,2.25,2.255,2.26,2.265,2.27,2.275,2.28,2.285,2.29,2.295,2.3,2.305,2.31,2.315,2.32,2.325,2.33,2.335,2.34,2.345,2.35,2.355,2.36],
 "format": ".5f", "labelOverlap": false, "labelFlush": false}},
"y2": {"field": "l"}
}
},
{
"data": {"name": "wm"},
"transform": [{"filter": "datum.k == 'big'"}],
"mark": {"type": "text", "align": "left", "baseline": "alphabetic", "color": "#85888f", "fontSize": 30},
"encoding": {
"x": {"field": "i", "type": "quantitative"},
"y": {"field": "p", "type": "quantitative"},
"text": {"field": "t"}
}
},
{
"data": {"name": "wm"},
"transform": [{"filter": "datum.k == 'sub'"}],
"mark": {"type": "text", "align": "left", "baseline": "alphabetic", "color": "#85888f", "fontSize": 10},
"encoding": {
"x": {"field": "i", "type": "quantitative"},
"y": {"field": "p", "type": "quantitative"},
"text": {"field": "t"}
}
},
{
"data": {"name": "zones"},
"transform": [{"filter": "datum.k == 'blue'"}],
"mark": {"type": "rect", "color": "#cad8f6"},
"encoding": {
"x": {"field": "i1", "type": "quantitative"},
"x2": {"field": "i2"},
"y": {"field": "p1", "type": "quantitative"},
"y2": {"field": "p2"}
}
},
{
"data": {"name": "zones"},
"transform": [{"filter": "datum.k == 'gray'"}],
"mark": {"type": "rect", "color": "#9c9c9c"},
"encoding": {
"x": {"field": "i1", "type": "quantitative"},
"x2": {"field": "i2"},
"y": {"field": "p1", "type": "quantitative"},
"y2": {"field": "p2"}
}
},
{
"data": {"name": "zones"},
"transform": [{"filter": "datum.k == 'pink'"}],
"mark": {"type": "rect", "color": "#f7caca"},
"encoding": {
"x": {"field": "i1", "type": "quantitative"},
"x2": {"field": "i2"},
"y": {"field": "p1", "type": "quantitative"},
"y2": {"field": "p2"}
}
},
{
"data": {"name": "lines"},
"transform": [{"filter": "datum.k == 'f'"}],
"mark": {"type": "rule", "color": "#d6d8dd", "strokeWidth": 0.7},
"encoding": {
"x": {"field": "i1", "type": "quantitative"},
"x2": {"field": "i2"},
"y": {"field": "p1", "type": "quantitative"},
"y2": {"field": "p2"}
}
},
{
"data": {"name": "candles"},
"mark": {"type": "rule", "color": "#9a9ca3", "strokeWidth": 0.8},
"encoding": {
"x": {"field": "i", "type": "quantitative"},
"y": {"field": "h", "type": "quantitative"},
"y2": {"field": "l"}
}
},
{
"data": {"name": "candles"},
"mark": {"type": "bar", "size": 2.4},
"encoding": {
"x": {"field": "i", "type": "quantitative"},
"y": {"field": "o", "type": "quantitative"},
"y2": {"field": "c"},
"color": {"condition": {"test": "datum.c >= datum.o", "value": "#2446a6"}, "value": "#d9777b"}
}
},
{
"data": {"name": "arc"},
"mark": {"type": "line", "color": "#131722", "strokeWidth": 0.8, "interpolate": "monotone"},
"encoding": {
"x": {"field": "i", "type": "quantitative"},
"y": {"field": "p", "type": "quantitative"},
"order": {"field": "n", "type": "quantitative"}
}
},
{
"data": {"name": "lines"},
"transform": [{"filter": "datum.k == 'b'"}],
"mark": {"type": "rule", "color": "#131722", "strokeWidth": 1.3},
"encoding": {
"x": {"field": "i1", "type": "quantitative"},
"x2": {"field": "i2"},
"y": {"field": "p1", "type": "quantitative"},
"y2": {"field": "p2"}
}
},
{
"data": {"name": "lines"},
"transform": [{"filter": "datum.k == 'r'"}],
"mark": {"type": "rule", "color": "#f06666", "strokeWidth": 1.7},
"encoding": {
"x": {"field": "i1", "type": "quantitative"},
"x2": {"field": "i2"},
"y": {"field": "p1", "type": "quantitative"},
"y2": {"field": "p2"}
}
},
{
"data": {"name": "labels"},
"transform": [{"filter": "datum.k == 's'"}],
"mark": {"type": "text", "align": "center", "baseline": "middle", "color": "#3352d1", "fontSize": 3.2},
"encoding": {
"x": {"field": "i", "type": "quantitative"},
"y": {"field": "p", "type": "quantitative"},
"text": {"field": "t"}
}
},
{
"data": {"name": "labels"},
"transform": [{"filter": "datum.k == 'm'"}],
"mark": {"type": "text", "align": "center", "baseline": "middle", "color": "#3352d1", "fontSize": 4.4},
"encoding": {
"x": {"field": "i", "type": "quantitative"},
"y": {"field": "p", "type": "quantitative"},
"text": {"field": "t"}
}
},
{
"data": {"name": "title"},
"mark": {"type": "text", "align": "left", "baseline": "middle", "color": "#131722", "fontSize": 4.8},
"encoding": {
"x": {"field": "i", "type": "quantitative"},
"y": {"field": "p", "type": "quantitative"},
"text": {"field": "t"}
}
},
{
"data": {"name": "tags"},
"transform": [{"filter": "datum.k == 'axis'"}],
"mark": {"type": "tick", "orient": "horizontal", "size": 19, "thickness": 8, "color": "#f23645", "opacity": 1},
"encoding": {
"x": {"field": "i", "type": "quantitative"},
"y": {"field": "p", "type": "quantitative"}
}
},
{
"data": {"name": "tags"},
"transform": [{"filter": "datum.k == 'sym'"}],
"mark": {"type": "tick", "orient": "horizontal", "size": 17, "thickness": 8, "color": "#f25a66", "opacity": 1},
"encoding": {
"x": {"field": "i", "type": "quantitative"},
"y": {"field": "p", "type": "quantitative"}
}
},
{
"data": {"name": "tags"},
"mark": {"type": "text", "align": "center", "baseline": "middle", "color": "white", "fontSize": 4.4},
"encoding": {
"x": {"field": "i", "type": "quantitative"},
"y": {"field": "p", "type": "quantitative"},
"text": {"field": "t"}
}
}
]
}
